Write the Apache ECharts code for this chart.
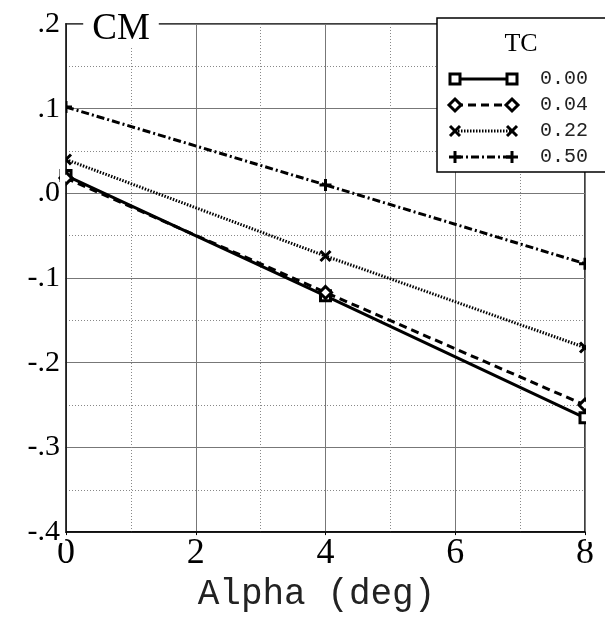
<!DOCTYPE html>
<html>
<head>
<meta charset="utf-8">
<script src="https://cdn.jsdelivr.net/npm/echarts@6/dist/echarts.min.js"></script>
<style>
html,body{margin:0;padding:0;background:#fff;}
#chart{width:605px;height:617px;}
</style>
</head>
<body>
<div id="chart"></div>
<script>
// ---- data ----
var alpha = [0, 4, 8];
var tcLabels = ['0.00', '0.04', '0.22', '0.50'];
var cm000 = [0.021, -0.121, -0.265];
var cm004 = [0.018, -0.117, -0.250];
var cm022 = [0.040, -0.074, -0.182];
var cm050 = [0.102, 0.010, -0.083];
var xTicks = [0, 2, 4, 6, 8];
var yTicks = [-0.4, -0.3, -0.2, -0.1, 0.0, 0.1, 0.2];
var yTickLabels = ['-.4', '-.3', '-.2', '-.1', '.0', '.1', '.2'];
var xName = 'Alpha (deg)';
var yName = 'CM';
var legendTitle = 'TC';

var SERIF = 'Liberation Serif';
var MONO = 'Liberation Mono';
var seriesData = [cm000, cm004, cm022, cm050];
var symbols = [
  'rect',
  'diamond',
  'path://M0,0L10,10M10,0L0,10',
  'path://M5,0L5,10M0,5L10,5'
];
var symbolSizes = [10, 12, 10, 12];
var lineTypes = ['solid', [8, 5], [1.5, 1.5], [8, 3, 2, 3]];

var chart = echarts.init(document.getElementById('chart'));

var series = seriesData.map(function (vals, i) {
  return {
    name: tcLabels[i],
    type: 'line',
    data: alpha.map(function (a, j) { return [a, vals[j]]; }),
    symbol: symbols[i],
    symbolSize: symbolSizes[i],
    showAllSymbol: true,
    clip: false,
    z: 3 + i,
    lineStyle: { color: '#000', width: 3, type: lineTypes[i] },
    itemStyle: { color: i < 2 ? '#fff' : '#000', borderColor: '#000', borderWidth: 3 },
    emphasis: { disabled: true },
    animation: false
  };
});

// legend drawing (graphic)
var lg = { x: 437, y: 18, w: 175, h: 154, x1: 455, x2: 512, y0: 79, dy: 26, tx: 540 };
var legendEls = [{
  type: 'rect', shape: { x: lg.x, y: lg.y, width: lg.w, height: lg.h },
  style: { fill: '#fff', stroke: '#000', lineWidth: 1.5 }, z: 100
}, {
  type: 'text', x: 521, y: 44, z: 101,
  style: { text: legendTitle, font: '26px "' + SERIF + '"', fill: '#000', align: 'center', verticalAlign: 'middle' }
}];
function markerEls(kind, cx, cy) {
  var st = { stroke: '#000', lineWidth: 3, fill: '#fff' };
  if (kind === 0) return [{ type: 'rect', shape: { x: cx - 5, y: cy - 5, width: 10, height: 10 }, style: st, z: 102 }];
  if (kind === 1) return [{ type: 'polygon', shape: { points: [[cx, cy - 6], [cx + 6, cy], [cx, cy + 6], [cx - 6, cy]] }, style: st, z: 102 }];
  if (kind === 2) return [
    { type: 'line', shape: { x1: cx - 5, y1: cy - 5, x2: cx + 5, y2: cy + 5 }, style: { stroke: '#000', lineWidth: 3 }, z: 102 },
    { type: 'line', shape: { x1: cx + 5, y1: cy - 5, x2: cx - 5, y2: cy + 5 }, style: { stroke: '#000', lineWidth: 3 }, z: 102 }];
  return [
    { type: 'line', shape: { x1: cx - 6, y1: cy, x2: cx + 6, y2: cy }, style: { stroke: '#000', lineWidth: 3 }, z: 102 },
    { type: 'line', shape: { x1: cx, y1: cy - 6, x2: cx, y2: cy + 6 }, style: { stroke: '#000', lineWidth: 3 }, z: 102 }];
}
tcLabels.forEach(function (lab, i) {
  var yy = lg.y0 + lg.dy * i;
  var lt = lineTypes[i];
  legendEls.push({
    type: 'line', shape: { x1: lg.x1, y1: yy, x2: lg.x2, y2: yy }, z: 101,
    style: { stroke: '#000', lineWidth: 3, lineDash: lt === 'solid' ? null : lt }
  });
  legendEls = legendEls.concat(markerEls(i, lg.x1, yy), markerEls(i, lg.x2, yy));
  legendEls.push({
    type: 'text', x: lg.tx, y: yy, z: 101,
    style: { text: lab, font: '20px "' + MONO + '"', fill: '#222', align: 'left', verticalAlign: 'middle' }
  });
});

var graphics = [
  // masks outside the plot so markers on the frame appear clipped
  { type: 'rect', shape: { x: 60, y: 24, width: 5.2, height: 519 }, style: { fill: '#fff' }, z: 50 },
  { type: 'rect', shape: { x: 586, y: 172, width: 19, height: 370 }, style: { fill: '#fff' }, z: 50 },
  // CM title on top frame
  { type: 'text', x: 121, y: 29, z: 100,
    style: { text: yName, font: '37px "' + SERIF + '"', fill: '#000', align: 'center', verticalAlign: 'middle',
             backgroundColor: '#fff', padding: [0, 9] } }
].concat(legendEls);

var option = {
  animation: false,
  backgroundColor: '#fff',
  grid: { left: 66, top: 24, width: 519, height: 519, show: true, borderColor: '#000', borderWidth: 1.5, backgroundColor: 'transparent' },
  xAxis: {
    type: 'value', min: xTicks[0], max: xTicks[xTicks.length - 1], interval: 2,
    name: xName, nameLocation: 'middle', nameGap: 31,
    nameTextStyle: { fontFamily: MONO, fontSize: 36, color: '#222', padding: [0, 18, 0, 0] },
    axisLine: { show: true, onZero: false, lineStyle: { color: '#000', width: 1.5 } },
    axisTick: { show: true, inside: false, length: 3, lineStyle: { color: '#000' } },
    axisLabel: { fontFamily: SERIF, fontSize: 36, color: '#000', margin: 3 },
    splitLine: { show: true, lineStyle: { color: '#777', width: 1 } },
    minorTick: { show: false, splitNumber: 2 },
    minorSplitLine: { show: true, lineStyle: { color: '#888', width: 1, type: [1, 2] } }
  },
  yAxis: {
    type: 'value', min: yTicks[0], max: yTicks[yTicks.length - 1], interval: 0.1,
    axisLine: { show: true, onZero: false, lineStyle: { color: '#000', width: 1.5 } },
    axisTick: { show: true, inside: false, length: 3, lineStyle: { color: '#000' } },
    axisLabel: {
      fontFamily: SERIF, fontSize: 30, color: '#000', margin: 6, align: 'right',
      formatter: function (v) {
        var k = 0, best = 1e9;
        yTicks.forEach(function (t, i) { var d = Math.abs(t - v); if (d < best) { best = d; k = i; } });
        return yTickLabels[k];
      }
    },
    splitLine: { show: true, lineStyle: { color: '#777', width: 1 } },
    minorTick: { show: false, splitNumber: 2 },
    minorSplitLine: { show: true, lineStyle: { color: '#888', width: 1, type: [1, 2] } }
  },
  series: series,
  graphic: graphics
};
chart.setOption(option);
</script>
</body>
</html>
